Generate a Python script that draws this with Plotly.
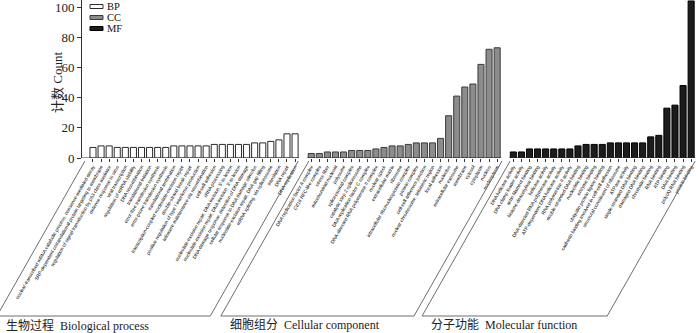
import plotly.graph_objects as go

# ---------------- data ----------------
bp_terms = [
    "nuclear-transcribed mRNA catabolic process, nonsense-mediated decay",
    "SRP-dependent cotranslational protein targeting to membrane",
    "regulation of signal transduction by p53 class mediator",
    "defense response to virus",
    "viral transcription",
    "regulation of mRNA stability",
    "DNA recombination",
    "translational initiation",
    "error-free translesion synthesis",
    "error-prone translesion synthesis",
    "translational termination",
    "transcription-coupled nucleotide-excision repair",
    "double-strand break repair",
    "positive regulation of type I interferon production",
    "telomere maintenance via recombination",
    "cell-cell adhesion",
    "rRNA processing",
    "nucleotide-excision repair, DNA incision, 5'-to lesion",
    "nucleotide-excision repair, DNA incision, 3'-to lesion",
    "DNA damage response, detection of DNA damage",
    "cellular response to DNA damage stimulus",
    "nucleotide-excision repair, DNA gap filling",
    "mRNA splicing, via spliceosome",
    "translation",
    "DNA repair",
    "DNA replication",
]
bp_counts = [7, 8, 8, 7, 7, 7, 7, 7, 7, 7, 8, 8, 8, 8, 8, 9, 9, 9, 9, 9, 10, 10, 11, 12, 16, 16]

cc_terms = [
    "DNA replication factor A complex",
    "Ctf18 RFC-like complex",
    "stress fiber",
    "mitochondrial nucleoid",
    "polysome",
    "spliceosomal complex",
    "catalytic step 2 spliceosome",
    "DNA replication factor C complex",
    "DNA-directed RNA polymerase II complex",
    "nuclear speck",
    "extracellular matrix",
    "ribosome",
    "intracellular ribonucleoprotein complex",
    "protein complex",
    "cell-cell adherens junction",
    "nuclear chromosome, telomeric region",
    "focal adhesion",
    "nucleolus",
    "extracellular exosome",
    "membrane",
    "cytosol",
    "cytoplasm",
    "nucleus",
    "nucleoplasm",
]
cc_counts = [3, 3, 4, 4, 4, 5, 5, 5, 6, 7, 8, 8, 9, 10, 10, 10, 13, 28, 41, 47, 49, 62, 72, 73]

mf_terms = [
    "DNA helicase activity",
    "DNA clamp loader activity",
    "actin filament binding",
    "histone deacetylase binding",
    "helicase activity",
    "DNA-directed RNA polymerase activity",
    "ATP-dependent DNA helicase activity",
    "RNA polymerase II activity",
    "double-stranded DNA binding",
    "nucleotide binding",
    "enzyme binding",
    "ubiquitin protein ligase binding",
    "cadherin binding involved in cell-cell adhesion",
    "structural constituent of ribosome",
    "ATPase activity",
    "single-stranded DNA binding",
    "damaged DNA binding",
    "chromatin binding",
    "RNA binding",
    "ATP binding",
    "DNA binding",
    "poly(A) RNA binding",
    "protein binding",
]
mf_counts = [4, 4, 6, 6, 6, 6, 6, 6, 8, 9, 9, 9, 10, 10, 10, 10, 10, 14, 15, 33, 35, 48, 104]

group_names = ["BP", "CC", "MF"]
group_titles = ["生物过程\u00a0\u00a0Biological process",
                "细胞组分\u00a0\u00a0Cellular component",
                "分子功能\u00a0\u00a0Molecular function"]
y_title = "计数\u00a0Count"
y_ticks = [0, 20, 40, 60, 80, 100]

# ---------------- layout helpers ----------------
groups = [(bp_terms, bp_counts), (cc_terms, cc_counts), (mf_terms, mf_counts)]
fills = ["#ffffff", "#8c8c8c", "#1c1c1c"]
outlines = ["#2a2a2a", "#3a3a3a", "#000000"]

GAP = 1  # empty slot between groups
positions = []
start = 0
for terms, _ in groups:
    positions.append(list(range(start, start + len(terms))))
    start += len(terms) + GAP

W, H = 700, 333
ML, MR, MT, MB = 82, 4, 0, 175
plot_w = W - ML - MR
plot_h = H - MT - MB
x_lo, x_hi = -1.36, positions[-1][-1] + 0.6
unit_px = plot_w / (x_hi - x_lo)

def py(pix):  # pixel y (from top) -> paper y
    return (MT + plot_h - pix) / plot_h

def px(pix):  # pixel x -> paper x
    return (pix - ML) / plot_w

def xd(v):  # data x -> paper x (follows the x axis scale)
    return (v - x_lo) / (x_hi - x_lo)

fig = go.Figure()
for (terms, counts), pos, name, fc, lc in zip(groups, positions, group_names, fills, outlines):
    fig.add_trace(go.Bar(
        x=pos, y=counts, name=name,
        marker=dict(color=fc, line=dict(color=lc, width=1)),
        hovertext=terms, showlegend=False,
    ))

tickvals = [p for pos in positions for p in pos]
ticktext = [t for terms, _ in groups for t in terms]

shapes = []
annotations = []
line_col = "#6e6e6e"
shift = 88 / unit_px  # horizontal offset of slanted bracket lines (data units)
y_top = py(161)
y_bot = py(316)
edges = [(-1.0, positions[0][-1] + 0.4),
         (positions[1][0] - 0.3, positions[1][-1] + 0.6),
         (positions[2][0] - 0.4, positions[2][-1] + 0.5)]
for gi, ((lft, rgt), pos) in enumerate(zip(edges, positions)):
    x0 = x_lo if gi == 0 else pos[0] - 0.5
    shapes.append(dict(type="line", xref="x", yref="y", x0=x0, x1=pos[-1] + 0.5,
                       y0=0, y1=0, line=dict(color="#333333", width=1)))
    for a, b in [((lft, y_top), (lft - shift, y_bot)),
                 ((rgt, y_top), (rgt - shift, y_bot)),
                 ((lft - shift, y_bot), (rgt - shift, y_bot))]:
        shapes.append(dict(type="line", xref="paper", yref="paper",
                           x0=xd(a[0]), y0=a[1], x1=xd(b[0]), y1=b[1],
                           line=dict(color=line_col, width=1)))
    annotations.append(dict(xref="paper", yref="paper", x=xd(lft - shift + 0.9), y=py(325),
                            xanchor="left", yanchor="middle", showarrow=False,
                            text=group_titles[gi],
                            font=dict(family="Liberation Serif, Noto Sans CJK SC, serif",
                                      size=12, color="#222222")))

# compact legend
leg_y = [6.5, 17.5, 28.5]
for name, fc, lc, yy in zip(group_names, fills, outlines, leg_y):
    shapes.append(dict(type="rect", xref="paper", yref="paper",
                       x0=px(90), x1=px(103), y0=py(yy + 2), y1=py(yy - 2),
                       fillcolor=fc, line=dict(color=lc, width=1)))
    annotations.append(dict(xref="paper", yref="paper", x=px(105), y=py(yy),
                            xanchor="left", yanchor="middle", showarrow=False,
                            text=name,
                            font=dict(family="Liberation Serif, serif", size=10.5, color="#111111")))

annotations.append(dict(xref="paper", yref="paper", x=px(57), y=py(83),
                        xanchor="center", yanchor="middle", showarrow=False,
                        textangle=-90, text=y_title,
                        font=dict(family="Liberation Serif, Noto Sans CJK SC, serif",
                                  size=13, color="#222222")))

fig.update_layout(
    width=W, height=H,
    margin=dict(l=ML, r=MR, t=MT, b=MB, autoexpand=False),
    paper_bgcolor="white", plot_bgcolor="white",
    bargap=0.25,
    shapes=shapes, annotations=annotations,
    xaxis=dict(range=[x_lo, x_hi], tickmode="array", tickvals=tickvals, ticktext=ticktext,
               tickangle=-60, showline=False, showgrid=False, zeroline=False,
               ticks="outside", ticklen=3, tickwidth=1, tickcolor="#333333",
               tickfont=dict(family="Liberation Sans Narrow, Liberation Sans, Arial, sans-serif",
                             size=4.8, color="#000000"),
               ticklabeloverflow="allow", automargin=False),
    yaxis=dict(range=[0, plot_h / 1.51], tickvals=y_ticks, showline=True, linecolor="#333333",
               linewidth=1, showgrid=False, zeroline=False, ticks="outside", ticklen=4,
               tickcolor="#333333", ticklabeloverflow="allow",
               tickfont=dict(family="Liberation Serif, serif", size=13, color="#222222"),
               automargin=False),
)

fig.write_html("out.html",
               config={"displayModeBar": False},
               post_script="document.body.style.margin='0';document.body.style.padding='0';")
